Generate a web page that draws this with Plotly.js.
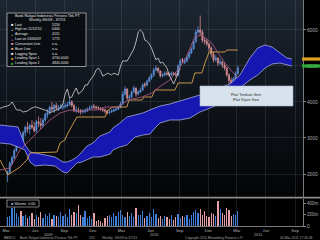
<!DOCTYPE html>
<html><head><meta charset="utf-8">
<script src="https://cdn.plot.ly/plotly-3.0.1.min.js"></script>
<style>html,body{margin:0;padding:0;background:#000;}#chart{width:320px;height:240px;}</style>
</head><body><div id="chart"></div>
<script>
// ---- weekly price data (3/6/09 .. 3/4/11) ----
const firstWeek = '2009-03-06';
const opens = [2000,2050,2300,2450,2650,2850,2950,2900,3150,3300, 3250,3350,3300,3200,3450,3400,3350,3500,3650,3700, 3850,3800,3900,3800,3830,3860,3870,3890,3920,4000, 3900,3760,3780,3770,3720,3740,3750,3800,3830,3880, 3860,3840,3830,3800,3780,3750,3700,3720,3750,3780, 3800,3860,3950,4220,4360,4110,4140,4280,4390,4220, 4280,4330,4500,4470,4580,4670,4750,4890,4940,4860, 4720,4750,4800,4780,4750,4800,4780,4750,5000,5180, 5100,5140,5250,5360,5470,5670,5940,6000,5940,5720, 5690,5610,5500,5330,5170,5220,5080,5110,5030,4940, 4750,4600,4500,4650,4800];
const highs = [2100,2350,2500,2700,2900,3050,3100,3200,3350,3450, 3400,3500,3450,3500,3600,3550,3550,3700,3800,3900, 4000,3950,3980,3920,3950,3960,3980,4000,4100,4050, 3950,3880,3850,3800,3800,3820,3850,3900,3920,3950, 3900,3890,3860,3850,3820,3780,3780,3800,3830,3850, 3900,4000,4300,4450,4380,4200,4320,4450,4400,4330, 4400,4520,4550,4620,4720,4800,4950,5020,4960,4880, 4800,4850,4850,4820,4850,4840,4820,5050,5200,5220, 5220,5300,5420,5520,5750,6000,6100,6400,6000,5800, 5750,5650,5550,5400,5300,5250,5200,5150,5080,4980, 4800,4680,4700,4850,5000];
const lows = [1775,2000,2250,2400,2600,2750,2800,2850,3050,3150, 3100,3250,3150,3150,3300,3250,3300,3450,3550,3650, 3750,3700,3780,3750,3800,3780,3820,3850,3900,3850, 3720,3700,3700,3650,3680,3690,3720,3770,3800,3800, 3780,3780,3750,3720,3680,3650,3660,3700,3720,3750, 3780,3830,3920,4180,4050,4050,4100,4250,4150,4180, 4250,4300,4400,4430,4550,4620,4700,4850,4800,4680, 4680,4720,4730,4700,4720,4730,4700,4720,4980,5080, 5050,5100,5200,5330,5450,5650,5900,5850,5650,5600, 5550,5400,5250,5100,5120,5000,5030,4950,4880,4700, 4500,4400,4450,4600,4750];
const closes = [2050,2300,2450,2650,2850,2950,2900,3150,3300,3250, 3350,3300,3200,3450,3400,3350,3500,3650,3700,3850, 3800,3900,3830,3830,3860,3870,3890,3920,4000,3900, 3780,3780,3770,3720,3740,3750,3800,3830,3860,3860, 3840,3830,3800,3780,3750,3700,3720,3750,3780,3800, 3860,3950,4220,4360,4110,4140,4280,4390,4220,4280, 4330,4470,4470,4580,4670,4750,4890,4940,4860,4720, 4750,4800,4780,4750,4800,4780,4750,5000,5140,5140, 5140,5250,5360,5470,5670,5940,6000,5940,5720,5690, 5610,5500,5330,5170,5220,5080,5110,5030,4940,4750, 4600,4500,4650,4800,4950];
// volume, millions of shares
const volumes = [160,175,310,420,220,150,260,180,200,140, 170,230,130,190,160,250,140,210,180,230, 120,200,170,150,250,180,210,160,300,190, 240,220,370,200,150,260,140,180,120,220, 90,110,80,60,140,170,200,150,230,180, 250,280,200,160,240,180,220,150,320,200, 190,260,140,180,220,160,300,210,140,170, 120,180,150,130,200,110,160,210,140,180, 150,190,120,200,250,280,220,300,190,260, 180,150,230,210,170,440,300,230,190,320, 280,170,210,200,260];

// ---- Ichimoku lines ----
const cloudDates = ['2009-02-10','2009-03-14','2009-04-08','2009-04-30','2009-05-16','2009-06-01','2009-07-02','2009-08-03','2009-08-28','2009-09-10','2009-09-26','2009-10-11','2009-10-27','2009-11-12','2009-12-01','2009-12-23','2010-01-24','2010-02-02','2010-02-24','2010-03-18','2010-04-13','2010-05-08','2010-05-30','2010-06-15','2010-07-01','2010-08-01','2010-09-02','2010-10-04','2010-11-04','2010-12-06','2011-01-06','2011-02-07','2011-03-11','2011-04-11','2011-05-06','2011-05-29','2011-06-20','2011-07-15','2011-08-06','2011-08-22'];
const leadingSpan1 = [3361,3333,3306,2806,2611,2583,2528,2472,2333,2333,2389,2472,2611,2778,2861,3056,3167,3278,3417,3583,3639,3694,3778,3833,3889,3944,4028,4111,4194,4278,4389,4500,4750,5222,5500,5583,5528,5361,5222,5194];
const leadingSpan2 = [2861,2833,2750,2667,2333,2222,2250,2222,2056,2028,2167,2306,2333,2389,2472,2472,2556,2667,2750,2806,3028,3083,3111,3278,3417,3500,3500,3556,3722,3833,3944,4111,4389,4611,4750,4944,5056,5083,5028,5000];
const baseDates = ['2009-02-10','2009-03-07','2009-04-14','2009-05-06','2009-05-16','2009-08-09','2009-08-19','2009-09-03','2009-09-13','2009-09-26','2009-10-11','2010-01-08','2010-01-17','2010-02-02','2010-03-18','2010-03-25','2010-05-05','2010-05-11','2010-06-05','2010-06-15','2010-08-17','2010-08-27','2010-10-10','2010-10-19','2010-11-10','2010-11-20','2010-12-03','2011-01-22','2011-01-28','2011-03-04'];
const baseLine = [2389,1972,2194,2389,2583,2611,2861,2944,3139,3361,3583,3583,3778,3861,3861,4056,4056,4139,4139,4333,4333,4528,4528,4806,4806,5083,5389,5389,5444,5444];
const convDates = ['2009-02-10','2009-03-14','2009-04-14','2009-05-16','2009-06-16','2009-07-18','2009-08-19','2009-09-19','2009-10-21','2009-11-06','2009-12-17','2010-01-08','2010-02-18','2010-03-22','2010-05-05','2010-06-05','2010-07-07','2010-08-01','2010-09-18','2010-10-19','2010-11-10','2010-12-12','2010-12-31','2011-02-01','2011-03-04'];
const conversionLine = [2111,2167,2667,2944,3222,3500,3694,3778,3722,3778,3778,3861,3861,4056,4139,4250,4472,4611,5167,5806,5861,5639,5361,4972,4667];
const laggingWeeks = 26;

// ---- axis labels / texts ----
const monthTicks = ['2009-03-01','2009-06-01','2009-09-01','2009-12-01','2010-03-01','2010-06-01','2010-09-01','2010-12-01','2011-03-01','2011-06-01','2011-09-01'];
const monthLabels = ['Mar','Jun','Sep','Dec','Mar','Jun','Sep','Dec','Mar','Jun','Sep'];
const yearLabels = ['2009','2010','2011'];
const priceTicks = [2000,3000,4000,5000,6000];
const volTicks = [0,200,400];
const volTickLabels = ['0','200m','400m'];
const legendTitle = ['Bank Rakyat Indonesia Persero Tbk PT','Weekly 3/6/09 - 3/7/11'];
const legendLabels = ['Last','High on 11/12/10','Average','Low on 03/06/09','Conversion Line','Base Line','Lagging Span','Leading Span 1','Leading Span 2'];
const legendValues = ['5250','6400','4115','1775','n.a.','n.a.','n.a.','4750.0000','4840.0000'];

// ---- build ----
function addDays(iso, n){const d=new Date(iso+'T00:00:00Z');d.setUTCDate(d.getUTCDate()+n);return d.toISOString().slice(0,10);}
const dates = opens.map((_,i)=>addDays(firstWeek,7*i));
const lagDates = opens.map((_,i)=>addDays(firstWeek,7*(i-laggingWeeks)));
const volColors = opens.map((o,i)=> closes[i]>=o ? '#3f7fd8' : '#e3a0a4');

const W=303, H=226;
const px = x => x/W, py = y => (H-y)/H;
const FONT = 'Liberation Sans, Arial, sans-serif';

const traces = [
  {type:'scatter',mode:'lines',x:cloudDates,y:leadingSpan1,line:{color:'#b8c0f0',width:0.7},hoverinfo:'skip',xaxis:'x',yaxis:'y'},
  {type:'scatter',mode:'lines',x:cloudDates,y:leadingSpan2,line:{color:'#b8c0f0',width:0.7},fill:'tonexty',fillcolor:'#1616b0',hoverinfo:'skip',xaxis:'x',yaxis:'y'},
  {type:'candlestick',x:dates,open:opens,high:highs,low:lows,close:closes,whiskerwidth:0,
   increasing:{line:{color:'#5a8ed8',width:0.8},fillcolor:'#5a8ed8'},
   decreasing:{line:{color:'#d48c90',width:0.8},fillcolor:'#d48c90'},xaxis:'x',yaxis:'y',hoverinfo:'skip'},
  {type:'scatter',mode:'lines',x:baseDates,y:baseLine,line:{color:'#d9a24c',width:0.9},xaxis:'x',yaxis:'y',hoverinfo:'skip'},
  {type:'scatter',mode:'lines',x:convDates,y:conversionLine,line:{color:'#a8557f',width:0.9},xaxis:'x',yaxis:'y',hoverinfo:'skip'},
  {type:'scatter',mode:'lines',x:lagDates,y:closes,line:{color:'#d6d6d6',width:0.8},xaxis:'x',yaxis:'y',hoverinfo:'skip'},
  {type:'bar',x:dates,y:volumes,marker:{color:volColors,line:{width:0}},width:4*86400000,xaxis:'x',yaxis:'y2',hoverinfo:'skip'}
];

const grid = 'rgba(120,132,148,0.33)';
const svg = "<svg xmlns='http://www.w3.org/2000/svg' width='10' height='100' preserveAspectRatio='none'><defs><linearGradient id='g' x1='0' y1='0' x2='0' y2='1'><stop offset='0' stop-color='#1d2631'/><stop offset='0.5' stop-color='#0f141b'/><stop offset='1' stop-color='#030405'/></linearGradient></defs><rect width='10' height='100' fill='url(#g)'/></svg>";

const annotations = [];
const shapes = [];
// legend box
shapes.push({type:'rect',xref:'paper',yref:'paper',x0:px(7),x1:px(86),y0:py(66.5),y1:py(13),fillcolor:'rgba(8,11,16,0.88)',line:{color:'#c8c8c8',width:0.7},layer:'above'});
legendTitle.forEach((t,k)=>annotations.push({xref:'paper',yref:'paper',x:px(47),y:py(15.5+4.2*k),text:t,showarrow:false,xanchor:'center',yanchor:'middle',font:{size:3.7,color:'#e6e6e6',family:FONT}}));
const legMark = ['■','+','+','+','■','■','■','■','■'];
const legColors = ['#e8e8e8','#e8e8e8','#9ad09a','#e090c0','#e48cc0','#e0a070','#e8e8e8','#d08a2a','#3aa83a'];
legendLabels.forEach((t,k)=>{
  const y = py(24.5+4.85*k);
  annotations.push({xref:'paper',yref:'paper',x:px(9),y:y,text:legMark[k],showarrow:false,xanchor:'left',yanchor:'middle',font:{size:4,color:legColors[k],family:FONT}});
  annotations.push({xref:'paper',yref:'paper',x:px(13),y:y,text:t,showarrow:false,xanchor:'left',yanchor:'middle',font:{size:3.5,color:'#e0e0e0',family:FONT}});
  annotations.push({xref:'paper',yref:'paper',x:px(50),y:y,text:legendValues[k],showarrow:false,xanchor:'left',yanchor:'middle',font:{size:3.5,color:'#e0e0e0',family:FONT}});
});
// flat label
shapes.push({type:'rect',xref:'paper',yref:'paper',x0:px(200),x1:px(293),y0:py(106),y1:py(86),fillcolor:'#d7e2ec',line:{color:'#a9bbcc',width:0.6},layer:'above'});
annotations.push({xref:'paper',yref:'paper',x:px(246.5),y:py(96.5),text:'Flat Tenkan Sen<br>Flat Kijun Sen',showarrow:false,xanchor:'center',yanchor:'middle',font:{size:4.2,color:'#2b2b2b',family:FONT}});
// volume legend
shapes.push({type:'rect',xref:'paper',yref:'paper',x0:px(7),x1:px(39),y0:py(207),y1:py(200),fillcolor:'rgba(0,0,0,0.9)',line:{color:'#c8c8c8',width:0.6},layer:'above'});
annotations.push({xref:'paper',yref:'paper',x:px(9),y:py(203.5),text:'<span style="color:#9ab8e8">■</span> Volume  0.00',showarrow:false,xanchor:'left',yanchor:'middle',font:{size:3.6,color:'#e0e0e0',family:FONT}});
// separator between panels
shapes.push({type:'line',xref:'paper',yref:'paper',x0:0,x1:320/W,y0:py(197.6),y1:py(197.6),line:{color:'#8c8c8c',width:1.6},layer:'above'});
// last leading span markers on axis
const n = leadingSpan1.length-1;
shapes.push({type:'rect',xref:'paper',yref:'y',x0:0.997,x1:320/W,y0:leadingSpan1[n]-45,y1:leadingSpan1[n]+45,fillcolor:'#e0a020',line:{width:0},layer:'above'});
shapes.push({type:'rect',xref:'paper',yref:'y',x0:0.997,x1:320/W,y0:leadingSpan2[n]-45,y1:leadingSpan2[n]+45,fillcolor:'#2fae3a',line:{width:0},layer:'above'});
// years
const yearX = [48,154,258];
yearLabels.forEach((t,k)=>annotations.push({xref:'paper',yref:'paper',x:px(yearX[k]),y:py(234.6),text:t,showarrow:false,xanchor:'center',yanchor:'middle',font:{size:3.8,color:'#b0b0b0',family:FONT}}));
// footer
const footer = [['BBRI IJ',2],['Bank Rakyat Indonesia Persero Tbk PT',18],['G11',87],['Weekly  3/6/09 to 3/7/11',100],['Copyright 2011 Bloomberg Finance L.P.',183],['04-Mar-2011 17:45:48',278]];
footer.forEach(f=>annotations.push({xref:'paper',yref:'paper',x:px(f[1]),y:py(238.5),text:f[0],showarrow:false,xanchor:'left',yanchor:'middle',font:{size:3.3,color:'#a0a0a0',family:FONT}}));

const layout = {
  width:320,height:240,margin:{l:0,r:17,t:0,b:14,pad:0},
  paper_bgcolor:'#000',plot_bgcolor:'rgba(0,0,0,0)',showlegend:false,
  font:{family:FONT,color:'#b0b0b0'},
  images:[{source:'data:image/svg+xml;charset=utf-8,'+encodeURIComponent(svg),xref:'paper',yref:'paper',x:0,y:1,sizex:1,sizey:1-py(197),sizing:'stretch',layer:'below'}],
  xaxis:{type:'date',anchor:'y2',range:['2009-02-10','2011-09-26'],tickmode:'array',tickvals:monthTicks,ticktext:monthLabels,
         tickfont:{size:4.2,color:'#b4b4b4'},ticks:'',ticklabelstandoff:0,showgrid:true,gridcolor:grid,gridwidth:0.6,
         showline:true,linecolor:'#7a7a7a',linewidth:1,zeroline:false,rangeslider:{visible:false},fixedrange:true},
  yaxis:{domain:[py(197),1],anchor:'x',side:'right',range:[1361,6833],tickmode:'array',tickvals:priceTicks,ticktext:priceTicks.map(String),
         tickfont:{size:4.8,color:'#a8a8a8'},ticks:'outside',ticklen:2,tickcolor:'#888',showgrid:true,gridcolor:grid,gridwidth:0.6,
         showline:true,linecolor:'#7a7a7a',linewidth:1,zeroline:false,fixedrange:true},
  yaxis2:{domain:[0,py(199)],anchor:'x',side:'right',range:[0,470],tickmode:'array',tickvals:volTicks,ticktext:volTickLabels,
         tickfont:{size:4.6,color:'#a8a8a8'},ticks:'outside',ticklen:2,tickcolor:'#888',showgrid:false,
         showline:true,linecolor:'#7a7a7a',linewidth:1,zeroline:false,fixedrange:true},
  shapes:shapes,annotations:annotations,bargap:0
};
Plotly.newPlot('chart',traces,layout,{displayModeBar:false,staticPlot:true});
</script></body></html>
